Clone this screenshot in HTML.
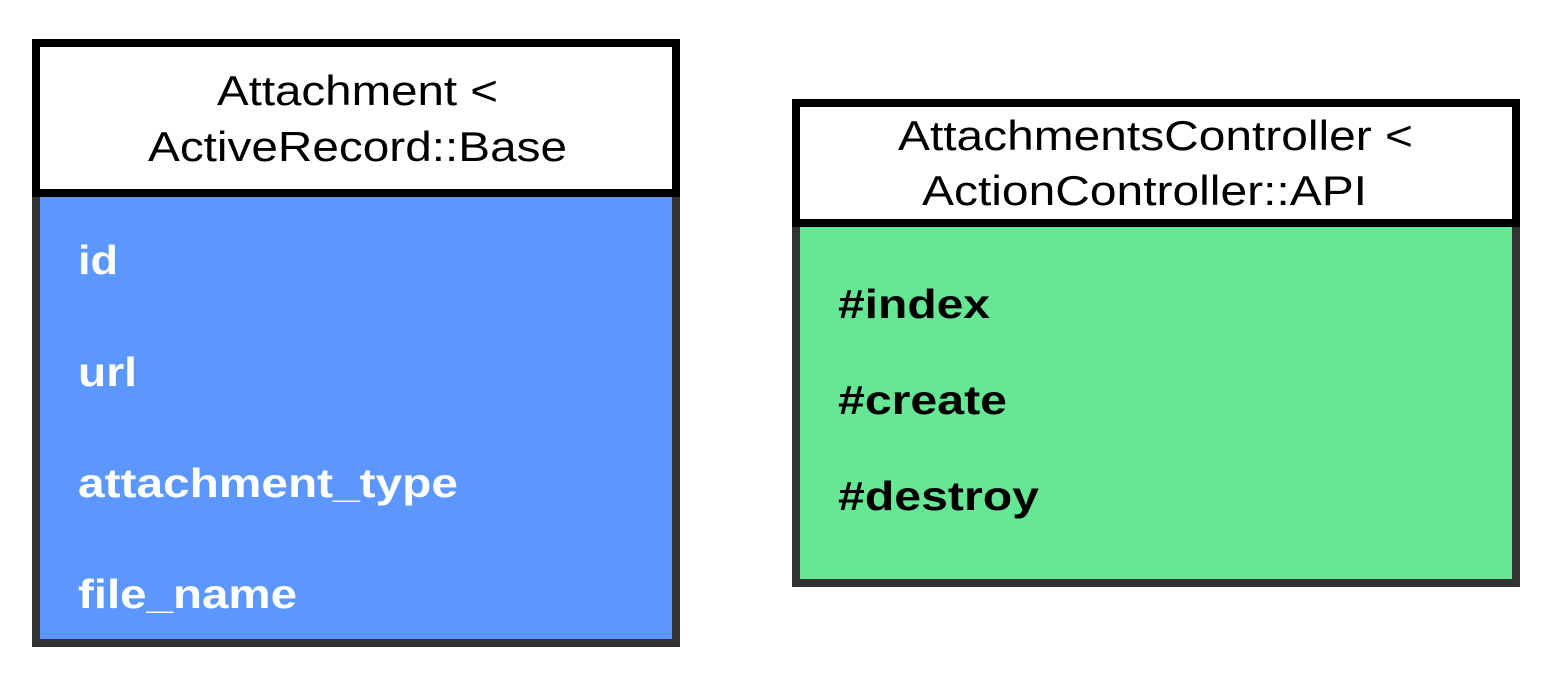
<!DOCTYPE html>
<html><head><meta charset="utf-8"><style>html,body{margin:0;padding:0;background:#fff}svg{display:block}</style></head>
<body>
<svg width="1549" height="681" viewBox="0 0 1549 681" xmlns="http://www.w3.org/2000/svg" font-family="Liberation Sans, sans-serif">
<rect x="36" y="193" width="640" height="450" fill="#5B97FE" stroke="#333333" stroke-width="8"/>
<rect x="36" y="43" width="640" height="150" fill="#fff" stroke="#000" stroke-width="8"/>
<g font-size="42" fill="#000" lengthAdjust="spacingAndGlyphs">
<text x="217" y="105" textLength="281" lengthAdjust="spacingAndGlyphs">Attachment &lt;</text>
<text x="148" y="161" textLength="419" lengthAdjust="spacingAndGlyphs">ActiveRecord::Base</text>
</g>
<g font-size="41" font-weight="bold" fill="#fff">
<text x="78" y="274" textLength="40" lengthAdjust="spacingAndGlyphs">id</text>
<text x="78" y="386" textLength="59" lengthAdjust="spacingAndGlyphs">url</text>
<text x="78" y="497" textLength="380" lengthAdjust="spacingAndGlyphs">attachment_type</text>
<text x="78" y="608" textLength="219" lengthAdjust="spacingAndGlyphs">file_name</text>
</g>
<rect x="796" y="223" width="720" height="360" fill="#66E796" stroke="#333333" stroke-width="8"/>
<rect x="796" y="103" width="720" height="120" fill="#fff" stroke="#000" stroke-width="8"/>
<g font-size="42" fill="#000">
<text x="898" y="150" textLength="515" lengthAdjust="spacingAndGlyphs">AttachmentsController &lt;</text>
<text x="922" y="205" textLength="445" lengthAdjust="spacingAndGlyphs">ActionController::API</text>
</g>
<g font-size="41" font-weight="bold" fill="#000">
<text x="838" y="318" textLength="152" lengthAdjust="spacingAndGlyphs">#index</text>
<text x="838" y="414" textLength="169" lengthAdjust="spacingAndGlyphs">#create</text>
<text x="838" y="510" textLength="201" lengthAdjust="spacingAndGlyphs">#destroy</text>
</g>
</svg>
</body></html>
